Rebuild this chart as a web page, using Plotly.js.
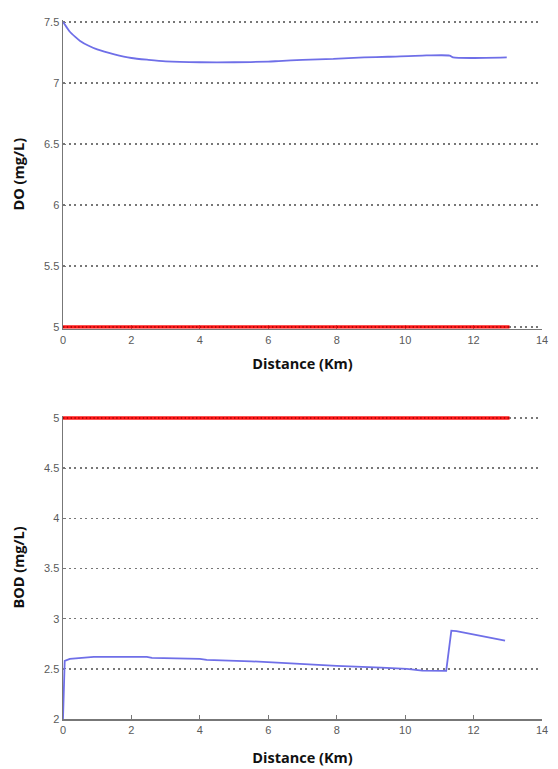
<!DOCTYPE html>
<html>
<head>
<meta charset="utf-8">
<script src="https://cdn.plot.ly/plotly-3.0.1.min.js"></script>
<style>html,body{margin:0;padding:0;background:#fff;}#chart{width:558px;height:769px;}</style>
</head>
<body>
<div id="chart"></div>
<script>
// Dissolved oxygen profile
const doDistance = [0, 0.1, 0.2, 0.35, 0.5, 0.75, 1.0, 1.5, 2.0, 2.5, 3.0, 4.0, 5.0, 6.0, 6.3, 7.0, 7.9, 8.8, 9.5, 10.5, 11.3, 11.4, 12.0, 12.97];
const doValues   = [7.5, 7.46, 7.42, 7.38, 7.345, 7.305, 7.275, 7.235, 7.205, 7.19, 7.178, 7.17, 7.17, 7.175, 7.18, 7.19, 7.197, 7.21, 7.215, 7.225, 7.225, 7.21, 7.205, 7.21];
// BOD profile
const bodDistance = [0, 0.02, 0.05, 0.2, 0.9, 2.45, 2.6, 4.0, 4.2, 5.5, 6.3, 8.0, 9.3, 10.05, 10.5, 11.2, 11.35, 11.5, 12.92];
const bodValues   = [2.0, 2.3, 2.58, 2.6, 2.62, 2.62, 2.61, 2.6, 2.59, 2.575, 2.56, 2.53, 2.513, 2.5, 2.483, 2.48, 2.88, 2.875, 2.78];
// Standards
const stdDistance = [0, 13.05];
const doStandard  = [5, 5];
const bodStandard = [5, 5];
const xTicks = [0, 2, 4, 6, 8, 10, 12, 14];
const doTicks = [5, 5.5, 6, 6.5, 7, 7.5];
const bodTicks = [2, 2.5, 3, 3.5, 4, 4.5, 5];

const blue = '#6f6fe8';
const red = '#ff1a1a';
const traces = [
  {x: stdDistance, y: doStandard, xaxis: 'x', yaxis: 'y', mode: 'lines', line: {color: red, width: 3.5}, hoverinfo: 'skip'},
  {x: stdDistance, y: doStandard, xaxis: 'x', yaxis: 'y', mode: 'lines', line: {color: '#a00000', width: 1.4, dash: '1.4px,2.4px'}, hoverinfo: 'skip'},
  {x: doDistance, y: doValues, xaxis: 'x', yaxis: 'y', mode: 'lines', line: {color: blue, width: 1.8, shape: 'spline', smoothing: 0.6}},
  {x: stdDistance, y: bodStandard, xaxis: 'x2', yaxis: 'y2', mode: 'lines', line: {color: red, width: 3.5}, hoverinfo: 'skip'},
  {x: stdDistance, y: bodStandard, xaxis: 'x2', yaxis: 'y2', mode: 'lines', line: {color: '#a00000', width: 1.4, dash: '1.4px,2.4px'}, hoverinfo: 'skip'},
  {x: bodDistance, y: bodValues, xaxis: 'x2', yaxis: 'y2', mode: 'lines', line: {color: blue, width: 1.8}}
];

const tickFont = {family: 'Liberation Sans, Arial, sans-serif', size: 11, color: '#5a5a5a'};
const titleFont = {family: 'Open Sans, sans-serif', size: 14.5, color: '#111', weight: 'bold'};
const xBase = {
  range: [0, 14], tickvals: xTicks, ticks: 'inside', ticklen: 4, tickcolor: '#777',
  showline: true, linecolor: '#777', linewidth: 1.5, showgrid: false, zeroline: false,
  tickfont: tickFont, fixedrange: true, layer: 'below traces'
};
const yBase = {
  showline: true, linecolor: '#777', linewidth: 1.5, zeroline: false,
  showgrid: true, gridcolor: '#777', gridwidth: 1.5, griddash: '2px,3.5px',
  ticks: 'inside', ticklen: 3, tickcolor: '#777', tickfont: tickFont, fixedrange: true, layer: 'below traces'
};

const layout = {
  width: 558, height: 769,
  margin: {l: 0, r: 0, t: 0, b: 0},
  paper_bgcolor: '#fff', plot_bgcolor: '#fff',
  showlegend: false,
  xaxis: Object.assign({}, xBase, {domain: [63/558, 542/558], anchor: 'y',
    title: {text: 'Distance (Km)', font: titleFont, standoff: 14}}),
  yaxis: Object.assign({}, yBase, {domain: [1 - 328.83/769, 1 - 19.56/769], anchor: 'x', range: [4.985, 7.52], tickvals: doTicks,
    title: {text: 'DO (mg/L)', font: titleFont, standoff: 16}}),
  xaxis2: Object.assign({}, xBase, {domain: [63/558, 542/558], anchor: 'y2',
    title: {text: 'Distance (Km)', font: titleFont, standoff: 18}}),
  yaxis2: Object.assign({}, yBase, {domain: [1 - 719/769, 1 - 416/769], anchor: 'x2', range: [2, 5.02], tickvals: bodTicks,
    title: {text: 'BOD (mg/L)', font: titleFont, standoff: 16}})
};

Plotly.newPlot('chart', traces, layout, {displayModeBar: false, staticPlot: true});
</script>
</body>
</html>
